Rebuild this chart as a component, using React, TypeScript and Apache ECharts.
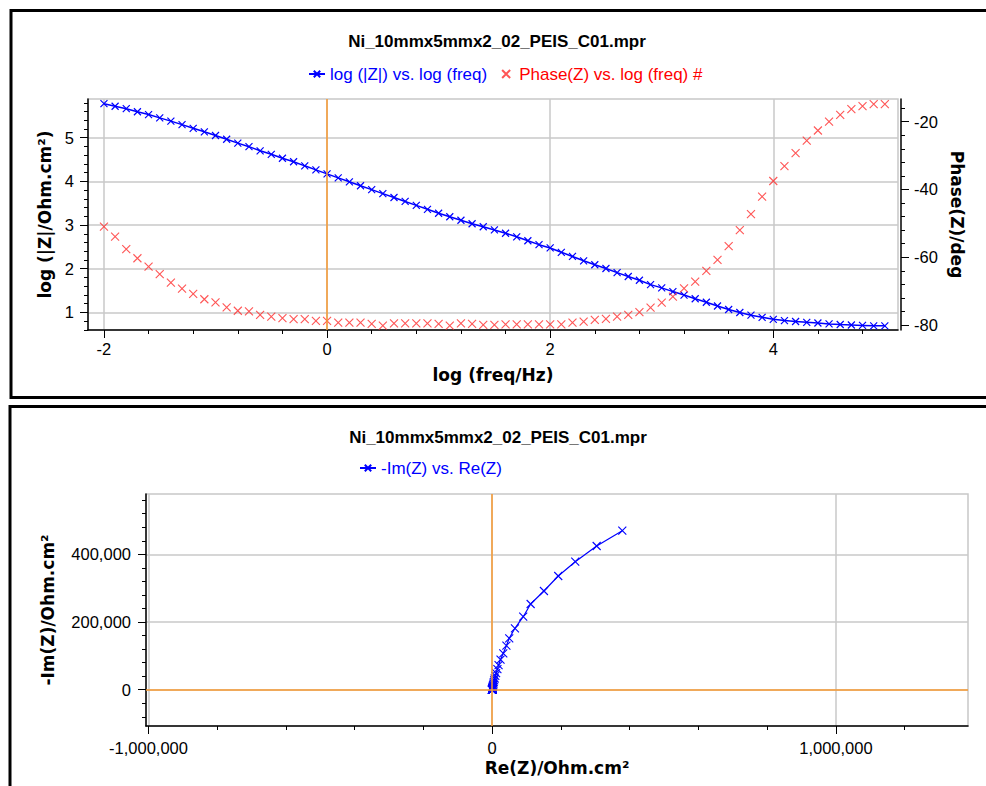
import React, { useEffect, useRef } from 'react';
import * as echarts from 'echarts';

// ---------- Data ----------
const logFreq = [
  -2.0, -1.9, -1.8, -1.7, -1.6, -1.5, -1.4, -1.3, -1.2, -1.1,
  -1.0, -0.9, -0.8, -0.7, -0.6, -0.5, -0.4, -0.3, -0.2, -0.1,
  0.0, 0.1, 0.2, 0.3, 0.4, 0.5, 0.6, 0.7, 0.8, 0.9,
  1.0, 1.1, 1.2, 1.3, 1.4, 1.5, 1.6, 1.7, 1.8, 1.9,
  2.0, 2.1, 2.2, 2.3, 2.4, 2.5, 2.6, 2.7, 2.8, 2.9,
  3.0, 3.1, 3.2, 3.3, 3.4, 3.5, 3.6, 3.7, 3.8, 3.9,
  4.0, 4.1, 4.2, 4.3, 4.4, 4.5, 4.6, 4.7, 4.8, 4.9,
  5.0,
];

const logModulus = [
  5.78, 5.72, 5.665, 5.595, 5.53, 5.455, 5.38, 5.3, 5.215, 5.135,
  5.05, 4.965, 4.876, 4.795, 4.7, 4.62, 4.53, 4.45, 4.356, 4.264,
  4.172, 4.08, 3.99, 3.9, 3.81, 3.72, 3.63, 3.54, 3.45, 3.36,
  3.27, 3.19, 3.11, 3.03, 2.96, 2.888, 2.812, 2.73, 2.64, 2.55,
  2.475, 2.375, 2.28, 2.18, 2.09, 2.005, 1.91, 1.82, 1.735, 1.635,
  1.56, 1.475, 1.395, 1.31, 1.23, 1.145, 1.065, 0.995, 0.935, 0.885,
  0.84, 0.81, 0.79, 0.77, 0.755, 0.735, 0.72, 0.71, 0.7, 0.69,
  0.69,
];

const phaseDeg = [
  -51.0, -53.9, -57.6, -60.3, -62.8, -65.0, -67.5, -69.3, -70.8, -72.4,
  -73.3, -74.8, -75.8, -76.0, -77.0, -77.5, -78.0, -78.3, -78.3, -78.8,
  -78.8, -79.3, -79.3, -79.3, -79.7, -80.2, -79.5, -79.5, -79.5, -79.5,
  -79.7, -80.2, -79.5, -79.7, -80.0, -80.0, -79.8, -79.8, -79.8, -79.8,
  -79.8, -79.8, -79.3, -79.0, -78.5, -78.2, -77.5, -77.0, -76.2, -74.9,
  -73.4, -71.6, -69.2, -67.2, -64.0, -60.8, -56.7, -52.0, -47.3, -42.1,
  -37.5, -33.1, -29.3, -25.6, -22.6, -20.0, -18.0, -16.3, -15.4, -14.8,
  -14.8,
];

const reZ = [
  378500, 303900, 241600, 192100, 150500, 111800, 90200, 66100, 49500, 41300,
  32200, 24190, 18440, 15090, 11280, 9020, 7040, 5710, 4600, 3570,
  2890, 2230, 1815, 1475, 1155, 893, 777, 632, 513, 417,
  333, 264, 235, 192, 158, 134, 115, 91, 81, 62,
  54, 43, 35, 29, 24, 21, 17.5, 14.8, 13.1, 11.0,
  10.5, 9.4, 8.8, 7.9, 7.5, 6.7, 6.3, 6.0, 5.8, 5.6,
  5.5, 5.4, 5.4, 5.3, 5.2, 5.1, 5.0, 4.9, 4.8, 4.7,
  4.7,
];

const negImZ = [
  469700, 424500, 378100, 335900, 291600, 253200, 215700, 181400, 151800, 130100,
  107500, 89030, 72860, 60520, 48840, 40700, 33140, 27590, 22230, 18020,
  14580, 11810, 9602, 7805, 6353, 5171, 4195, 3409, 2771, 2253,
  1832, 1526, 1266, 1055, 898, 761, 639, 506, 448, 344,
  298, 229, 185, 147, 119, 100, 79, 63.9, 53.4, 40.8,
  35.1, 28.2, 23.3, 18.8, 15.3, 12.0, 9.6, 7.7, 6.3, 5.1,
  4.2, 3.5, 3.0, 2.5, 2.2, 1.8, 1.6, 1.4, 1.3, 1.3,
  1.3,
];

// tick labels / tick positions
const bodeXLabels = [-2, 0, 2, 4];
const bodeXMinor = [-2, -1.6, -1.2, -0.8, -0.4, 0, 0.4, 0.8, 1.2, 1.6, 2, 2.4, 2.8, 3.2, 3.6, 4, 4.4, 4.8];
const modulusLabels = [1, 2, 3, 4, 5];
const modulusMinor = [0.6, 0.8, 1, 1.2, 1.4, 1.6, 1.8, 2, 2.2, 2.4, 2.6, 2.8, 3, 3.2, 3.4, 3.6, 3.8, 4, 4.2, 4.4, 4.6, 4.8, 5, 5.2, 5.4, 5.6, 5.8];
const phaseLabels = [-80, -60, -40, -20];
const phaseMinor = [-80, -76, -72, -68, -64, -60, -56, -52, -48, -44, -40, -36, -32, -28, -24, -20, -16];
const reLabels = [-1000000, 0, 1000000];
const reMinor = [-1000000, -800000, -600000, -400000, -200000, 0, 200000, 400000, 600000, 800000, 1000000, 1200000];
const imLabels = [0, 200000, 400000];
const imMinor = [-80000, -40000, 0, 40000, 80000, 120000, 160000, 200000, 240000, 280000, 320000, 360000, 400000, 440000, 480000, 520000, 560000];

const TITLE = 'Ni_10mmx5mmx2_02_PEIS_C01.mpr';
const BLUE_NAME = 'log (|Z|) vs. log (freq)';
const RED_NAME = 'Phase(Z) vs. log (freq) #';
const NYQ_NAME = '-Im(Z) vs. Re(Z)';

// ---------- styling ----------
const BLUE = '#0000ff';
const RED = '#ff2a2a';
const ORANGE = '#f89a30';
const GRID_GRAY = '#c8c8c8';
const X_MARK = 'path://M0,0L10,10M10,0L0,10';
const NAME_STYLE = { fontFamily: 'DejaVu Sans', fontWeight: 'bold', fontSize: 17, color: '#000' };
const LABEL_STYLE = { fontFamily: 'Liberation Sans', fontSize: 16.5, color: '#000' };

const withCommas = (v: number) => String(v).replace(/\B(?=(\d{3})+(?!\d))/g, ',');

function mainAxis(gridIndex: number, min: number, max: number, labels: number[], position: string,
  name: string, nameGap: number, margin: number, fmt: (v: number) => string, extra: any = {}) {
  return {
    type: 'value', gridIndex, min, max, position, name, nameLocation: 'middle', nameGap,
    nameTextStyle: NAME_STYLE,
    axisLine: { show: true, onZero: false, lineStyle: { color: '#000', width: 1.5 } },
    axisTick: { show: true, inside: false, length: 8, customValues: labels, lineStyle: { color: '#000', width: 1 } },
    axisLabel: { show: true, customValues: labels, margin, formatter: fmt, ...LABEL_STYLE },
    splitLine: { show: false },
    minorTick: { show: false },
    minorSplitLine: { show: false },
    ...extra,
  };
}

function minorAxis(gridIndex: number, min: number, max: number, ticks: number[], position: string, extra: any = {}) {
  return {
    type: 'value', gridIndex, min, max, position,
    axisLine: { show: false, onZero: false },
    axisTick: { show: true, inside: false, length: 4, customValues: ticks, lineStyle: { color: '#000', width: 1 } },
    axisLabel: { show: false },
    splitLine: { show: false },
    ...extra,
  };
}

const grayGrid = { show: true, lineStyle: { color: GRID_GRAY, width: 1.5 } };

const zeroLines = (data: any[]) => ({
  silent: true,
  symbol: ['none', 'none'],
  label: { show: false },
  emphasis: { disabled: true },
  lineStyle: { color: ORANGE, width: 1.5, type: 'solid' },
  data,
});

const BX = [-2.143, 5.118];
const BY = [0.595, 5.887];
const PY = [-81.48, -13.3];
const NX = [-1007300, 1384300];
const NY = [-107200, 578100];

const option: any = {
  animation: false,
  backgroundColor: '#ffffff',
  graphic: [
    { type: 'rect', shape: { x: 11, y: 10.5, width: 1000, height: 387 }, style: { fill: 'none', stroke: '#000', lineWidth: 3 }, silent: true },
    { type: 'rect', shape: { x: 10, y: 406.5, width: 1000, height: 500 }, style: { fill: 'none', stroke: '#000', lineWidth: 3 }, silent: true },
    { type: 'text', x: 497, y: 41, style: { text: TITLE, fontFamily: 'Liberation Sans', fontWeight: 'bold', fontSize: 17, fill: '#000', align: 'center', verticalAlign: 'middle' }, silent: true },
    { type: 'text', x: 498, y: 437.5, style: { text: TITLE, fontFamily: 'Liberation Sans', fontWeight: 'bold', fontSize: 17, fill: '#000', align: 'center', verticalAlign: 'middle' }, silent: true },
  ],
  legend: [
    {
      left: 303, top: 60, orient: 'horizontal', itemGap: 14, itemWidth: 16, itemHeight: 8,
      selectedMode: false,
      textStyle: { fontFamily: 'Liberation Sans', fontSize: 17, lineHeight: 18 },
      data: [
        { name: BLUE_NAME, textStyle: { color: BLUE } },
        { name: RED_NAME, textStyle: { color: '#ff0000' } },
      ],
    },
    {
      left: 354, top: 454, orient: 'horizontal', itemWidth: 16, itemHeight: 8,
      selectedMode: false,
      textStyle: { fontFamily: 'Liberation Sans', fontSize: 17, lineHeight: 18 },
      data: [{ name: NYQ_NAME, textStyle: { color: BLUE } }],
    },
  ],
  grid: [
    { left: 88, top: 99, width: 810, height: 231, show: true, borderColor: GRID_GRAY, borderWidth: 1.5, backgroundColor: 'transparent', outerBoundsMode: 'none' },
    { left: 146, top: 494, width: 822, height: 232, show: true, borderColor: GRID_GRAY, borderWidth: 1.5, backgroundColor: 'transparent', outerBoundsMode: 'none' },
  ],
  xAxis: [
    mainAxis(0, BX[0], BX[1], bodeXLabels, 'bottom', 'log (freq/Hz)', 36, 10, (v: number) => String(v), { splitLine: grayGrid }),
    minorAxis(0, BX[0], BX[1], bodeXMinor, 'bottom'),
    mainAxis(1, NX[0], NX[1], reLabels, 'bottom', 'Re(Z)/Ohm.cm²', 33, 13, withCommas, { splitLine: grayGrid }),
    minorAxis(1, NX[0], NX[1], reMinor, 'bottom'),
  ],
  yAxis: [
    mainAxis(0, BY[0], BY[1], modulusLabels, 'left', 'log (|Z|/Ohm.cm²)', 32, 14, (v: number) => String(v), { splitLine: grayGrid }),
    mainAxis(0, PY[0], PY[1], phaseLabels, 'right', 'Phase(Z)/deg', 44, 13, (v: number) => String(v), { offset: 3, nameRotate: -90 }),
    minorAxis(0, BY[0], BY[1], modulusMinor, 'left'),
    minorAxis(0, PY[0], PY[1], phaseMinor, 'right', { offset: 3 }),
    mainAxis(1, NY[0], NY[1], imLabels, 'left', '-Im(Z)/Ohm.cm²', 90, 15, withCommas, { splitLine: grayGrid }),
    minorAxis(1, NY[0], NY[1], imMinor, 'left'),
  ],
  series: [
    {
      type: 'line', name: BLUE_NAME, xAxisIndex: 0, yAxisIndex: 0,
      data: logFreq.map((f, i) => [f, logModulus[i]]),
      symbol: X_MARK, symbolSize: 7, showSymbol: true, showAllSymbol: true,
      lineStyle: { color: BLUE, width: 1.5 },
      itemStyle: { color: BLUE, borderColor: BLUE, borderWidth: 1.2 },
      emphasis: { disabled: true },
      markLine: zeroLines([{ xAxis: 0 }]),
      z: 3,
    },
    {
      type: 'scatter', name: RED_NAME, xAxisIndex: 0, yAxisIndex: 1,
      data: logFreq.map((f, i) => [f, phaseDeg[i]]),
      symbol: X_MARK, symbolSize: 8,
      itemStyle: { color: RED, borderColor: RED, borderWidth: 1.1 },
      emphasis: { disabled: true },
      z: 3,
    },
    {
      type: 'line', name: NYQ_NAME, xAxisIndex: 2, yAxisIndex: 4,
      data: reZ.map((r, i) => [r, negImZ[i]]),
      symbol: X_MARK, symbolSize: 8, showSymbol: true, showAllSymbol: true,
      lineStyle: { color: BLUE, width: 1.2 },
      itemStyle: { color: BLUE, borderColor: BLUE, borderWidth: 1.1 },
      emphasis: { disabled: true },
      markLine: zeroLines([{ xAxis: 0 }, { yAxis: 0 }]),
      z: 3,
    },
  ],
};

export default function App() {
  const ref = useRef<HTMLDivElement>(null);
  useEffect(() => {
    if (!ref.current) return;
    const chart = echarts.init(ref.current, null, { renderer: 'svg' });
    chart.setOption(option);
    return () => chart.dispose();
  }, []);
  return (
    <div
      ref={ref}
      style={{ position: 'absolute', left: 0, top: 0, width: 986, height: 786, background: '#fff' }}
    />
  );
}
